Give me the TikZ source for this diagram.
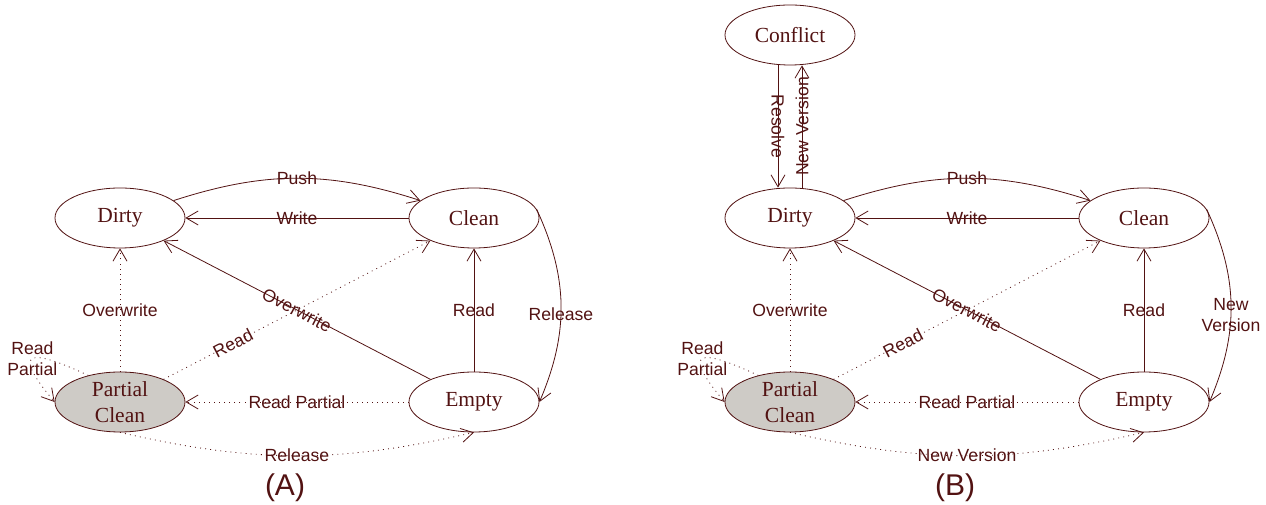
\documentclass[tikz,border=0pt]{standalone}
\usepackage{fontspec}
\setmainfont{Liberation Serif}
\setsansfont{Liberation Sans}
\usetikzlibrary{shapes.geometric,arrows.meta}
\definecolor{ink}{RGB}{82,18,18}
\definecolor{pcgray}{RGB}{206,203,198}
\tikzset{
  state/.style={ellipse, draw, minimum width=130pt, minimum height=60pt, inner sep=0pt,
    align=center, font=\fontsize{21.5}{26}\selectfont},
  edge/.style={-{Straight Barb[length=12pt,width=14pt]}},
  dots/.style={dash pattern=on 0.9pt off 4.2pt},
  lab/.style={font=\sffamily\fontsize{17.6}{21}\selectfont, inner sep=1pt, align=center},
  tag/.style={font=\sffamily\fontsize{30}{34}\selectfont}
}

\begin{document}
\begin{tikzpicture}[x=1pt,y=1pt,color=ink,line width=0.8pt]
\useasboundingbox (0,0) rectangle (1266,505);
\foreach \dx/\tg/\lbl/\lblb in {0/A/Release/Release,670/B/{New\\Version}/New Version}{
\begin{scope}[xshift=\dx pt]
  \node[state] (dirty\tg) at (120,287) {Dirty};
  \node[state] (clean\tg) at (474,287) {Clean};
  \node[state, fill=pcgray] (part\tg) at (120,103) {Partial\\Clean};
  \node[state] (empty\tg) at (474,103) {Empty};
  \node[tag] (tag\tg) at (285,17) {(\tg)};
  % solid transitions
  \draw[edge] (dirty\tg) to[bend left=18] node[lab]{Push} (clean\tg);
  \draw[edge] (clean\tg) -- node[lab]{Write} (dirty\tg);
  \draw[edge] (empty\tg) -- node[lab,sloped]{Overwrite} (dirty\tg);
  \draw[edge] (empty\tg) -- node[lab]{Read} (clean\tg);
  \draw[edge] (clean\tg.8) to[bend left=24] node[lab,pos=0.55]{\lbl} (empty\tg.east);
  % dotted transitions
  \draw[edge,dots] (part\tg) -- node[lab]{Overwrite} (dirty\tg);
  \draw[edge,dots] (part\tg) -- node[lab,sloped,pos=0.26]{Read} (clean\tg);
  \draw[edge,dots] (empty\tg) -- node[lab]{Read Partial} (part\tg);
  \draw[edge,dots] (part\tg.south) to[bend right=13] node[lab]{\lblb} (empty\tg.south);
  \draw[edge,dots] (part\tg.140) to[out=155,in=130,looseness=4] node[lab]{Read\\Partial} (part\tg.west);
\end{scope}
}
\node[state] (conflictB) at (790,470) {Conflict};
\draw[edge] ([xshift=-12pt]conflictB.south) -- node[lab,rotate=-90]{Resolve} ([xshift=-12pt]dirtyB.north);
\draw[edge] ([xshift=12pt]dirtyB.north) -- node[lab,rotate=90]{New Version} ([xshift=12pt]conflictB.south);
\end{tikzpicture}
\end{document}
